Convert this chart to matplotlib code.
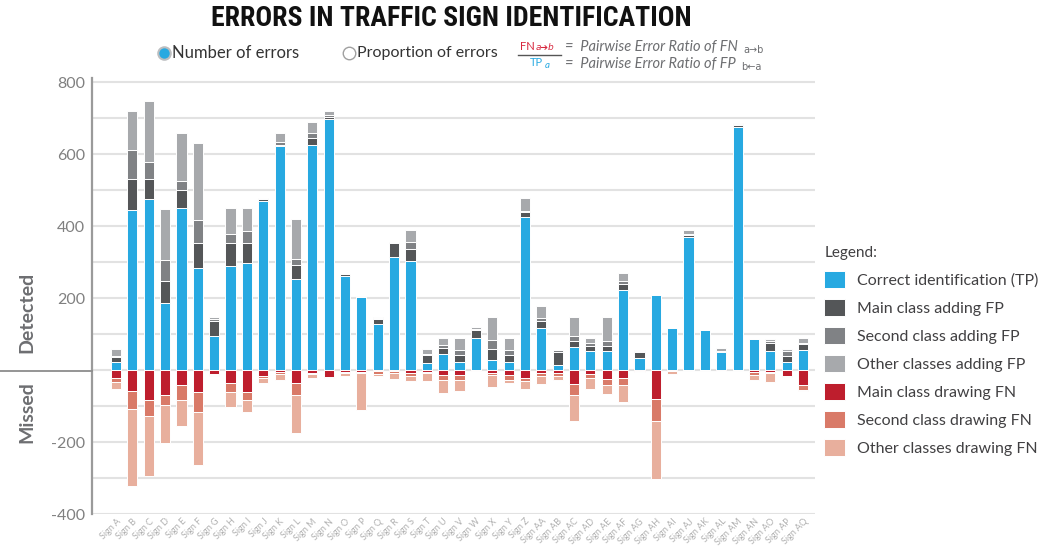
import numpy as np
import matplotlib
matplotlib.use('Agg')
from matplotlib import pyplot as plt
from matplotlib.lines import Line2D

# Sign names on the x axis
signs = ['Sign A', 'Sign B', 'Sign C', 'Sign D', 'Sign E', 'Sign F', 'Sign G', 'Sign H', 'Sign I',
         'Sign J', 'Sign K', 'Sign L', 'Sign M', 'Sign N', 'Sign O', 'Sign P', 'Sign Q', 'Sign R',
         'Sign S', 'Sign T', 'Sign U', 'Sign V', 'Sign W', 'Sign X', 'Sign Y', 'Sign Z', 'Sign AA',
         'Sign AB', 'Sign AC', 'Sign AD', 'Sign AE', 'Sign AF', 'Sign AG', 'Sign AH', 'Sign AI',
         'Sign AJ', 'Sign AK', 'Sign AL', 'Sign AM', 'Sign AN', 'Sign AO', 'Sign AP', 'Sign AQ']

# Detected (positive side)
tp = [21, 445, 474, 187, 449, 284, 94, 290, 298, 470, 621, 252, 626, 698, 261, 203, 127, 315, 302, 19,
      44, 22, 88, 29, 23, 426, 118, 15, 65, 52, 52, 223, 34, 208, 116, 369, 111, 49, 676, 86, 53, 21, 55]
fp_main = [14, 86, 56, 59, 52, 69, 43, 63, 56, 6, 5, 40, 18, 4, 6, 0, 15, 38, 33, 22,
           17, 19, 22, 28, 18, 12, 17, 35, 15, 16, 16, 17, 17, 0, 0, 6, 0, 2, 4, 1, 23, 19, 16]
fp_second = [4, 80, 49, 60, 25, 63, 4, 24, 33, 1, 6, 15, 15, 6, 0, 0, 3, 3, 21, 3,
             8, 15, 4, 25, 15, 5, 9, 5, 14, 8, 13, 8, 2, 0, 0, 4, 0, 3, 3, 0, 5, 13, 5]
fp_other = [20, 108, 169, 142, 133, 214, 6, 72, 62, 1, 27, 112, 30, 11, 0, 0, 3, 0, 33, 15,
            20, 33, 5, 66, 33, 35, 35, 0, 54, 13, 67, 21, 3, 0, 0, 10, 0, 6, 3, 0, 5, 6, 13]

# Missed (negative side)
fn_main = [22, 59, 83, 69, 43, 61, 12, 35, 62, 17, 6, 37, 8, 20, 6, 5, 4, 4, 8, 5,
           14, 15, 0, 8, 14, 21, 8, 9, 40, 12, 26, 21, 4, 81, 1, 0, 0, 4, 0, 6, 6, 17, 42]
fn_second = [12, 50, 45, 28, 40, 56, 2, 27, 20, 4, 6, 32, 4, 1, 3, 3, 6, 3, 9, 4,
             14, 13, 0, 6, 13, 9, 8, 7, 29, 10, 15, 20, 1, 60, 2, 0, 0, 0, 0, 8, 3, 0, 14]
fn_other = [18, 212, 166, 105, 73, 147, 3, 40, 34, 15, 17, 106, 9, 1, 9, 103, 7, 18, 13, 21,
            36, 29, 4, 33, 10, 24, 22, 13, 73, 31, 27, 48, 1, 162, 7, 0, 0, 0, 0, 13, 23, 3, 3]

labels = ['Correct identification (TP)', 'Main class adding FP', 'Second class adding FP',
          'Other classes adding FP', 'Main class drawing FN', 'Second class drawing FN',
          'Other classes drawing FN']
colors = ['#27a9e1', '#545658', '#808285', '#a7a9ac', '#be1e2d', '#d97a68', '#e8af9d']

W, H = 1041, 547
plt.rcParams['font.family'] = ['Lato', 'DejaVu Sans']


def px(x, y):
    return x / W, 1 - y / H


if __name__ == "__main__":

    fig = plt.figure(figsize=(W / 100, H / 100), dpi=100)
    ax = fig.add_axes([92 / W, 1 - 514 / H, (815 - 92) / W, (514 - 78.4) / H])

    x = np.arange(len(signs))
    width = 0.62
    handles = []

    # Positive stack
    bottom = np.zeros(len(signs))
    for vals, c, lab in zip([tp, fp_main, fp_second, fp_other], colors[:4], labels[:4]):
        b = ax.bar(x, vals, width, bottom=bottom, color=c, edgecolor='white', linewidth=0.7,
                   label=lab, zorder=3)
        handles.append(b)
        bottom += np.array(vals)

    # Negative stack
    bottom = np.zeros(len(signs))
    for vals, c, lab in zip([fn_main, fn_second, fn_other], colors[4:], labels[4:]):
        v = -np.array(vals)
        b = ax.bar(x, v, width, bottom=bottom, color=c, edgecolor='white', linewidth=0.7,
                   label=lab, zorder=3)
        handles.append(b)
        bottom += v

    ax.set_xlim(-1.47, 42.73)
    ax.set_ylim(-400, 810)

    # Grid every 100, labels every 200 (no zero label)
    ax.set_yticks(np.arange(-400, 801, 100), minor=True)
    ax.set_yticks(np.arange(-400, 801, 200))
    ax.set_yticklabels(['' if t == 0 else str(t) for t in np.arange(-400, 801, 200)])
    ax.grid(axis='y', which='both', color='#e2e2e2', linewidth=1.5, zorder=0)
    ax.tick_params(axis='y', which='both', length=0, labelsize=11.5, labelcolor='#808080', pad=5)
    ax.axhline(0, color='#8c8c8c', linewidth=1.3, linestyle=(0, (4, 3)), zorder=1)

    ax.set_xticks(x)
    ax.set_xticklabels(signs, rotation=45, ha='right', rotation_mode='anchor',
                       fontsize=6.5, color='#b0b0b0')
    ax.tick_params(axis='x', length=0, pad=2)

    for s in ['top', 'right', 'bottom']:
        ax.spines[s].set_visible(False)
    ax.spines['left'].set_color('#9a9a9a')
    ax.spines['left'].set_linewidth(1.6)

    # Zero line continues to the left edge
    fig.add_artist(Line2D([0, 92 / W], [1 - 371 / H] * 2, color='#8c8c8c', linewidth=1.3,
                          transform=fig.transFigure))

    fig.text(*px(27, 312), 'Detected', rotation=90, ha='center', va='center',
             fontsize=14, fontweight='bold', color='#6d6e71')
    fig.text(*px(27, 412), 'Missed', rotation=90, ha='center', va='center',
             fontsize=14, fontweight='bold', color='#6d6e71')

    # Title
    fig.text(*px(451, 18), 'ERRORS IN TRAFFIC SIGN IDENTIFICATION', ha='center', va='center',
             fontsize=20, fontweight='bold', fontstretch='condensed', color='#111111',
             family=['Roboto Condensed', 'DejaVu Sans Condensed', 'Roboto'])

    # Radio buttons
    fig.add_artist(Line2D([px(164, 53)[0]], [px(164, 53)[1]], marker='o', markersize=9,
                          markerfacecolor='#27a9e1', markeredgecolor='#bcbec0',
                          markeredgewidth=1.5, transform=fig.transFigure))
    fig.text(*px(172, 53), 'Number of errors', ha='left', va='center', fontsize=12, color='#333333')
    fig.add_artist(Line2D([px(349, 53)[0]], [px(349, 53)[1]], marker='o', markersize=9,
                          markerfacecolor='white', markeredgecolor='#a0a0a0',
                          markeredgewidth=1.0, transform=fig.transFigure))
    fig.text(*px(357, 53), 'Proportion of errors', ha='left', va='center', fontsize=11.5, color='#333333')

    # Ratio formula
    fig.text(*px(520, 46), 'FN', ha='left', va='center', fontsize=8, color='#d7263d')
    fig.text(*px(536, 48), 'a➔b', ha='left', va='center', fontsize=6.5, color='#d7263d',
             style='italic', family=['DejaVu Sans'])
    fig.add_artist(Line2D([518 / W, 561 / W], [1 - 55 / H] * 2, color='#555555', linewidth=1,
                          transform=fig.transFigure))
    fig.text(*px(530, 63), 'TP', ha='left', va='center', fontsize=8, color='#27a9e1')
    fig.text(*px(545, 65), 'a', ha='left', va='center', fontsize=7, color='#27a9e1', style='italic')
    t1 = fig.text(*px(565, 47), '=  Pairwise Error Ratio of FN', ha='left', va='center',
                  fontsize=10.5, color='#6d6e71', style='italic')
    ax.annotate('a→b', xy=(1, 0), xycoords=t1, xytext=(4, 3), textcoords='offset points',
                ha='left', va='center', fontsize=7, color='#6d6e71', family=['DejaVu Sans'],
                annotation_clip=False)
    t2 = fig.text(*px(565, 64), '=  Pairwise Error Ratio of FP', ha='left', va='center',
                  fontsize=10.5, color='#6d6e71', style='italic')
    ax.annotate('b←a', xy=(1, 0), xycoords=t2, xytext=(4, 3), textcoords='offset points',
                ha='left', va='center', fontsize=7, color='#6d6e71', family=['DejaVu Sans'],
                annotation_clip=False)

    # Legend
    leg = fig.legend(handles, labels, loc='upper left', bbox_to_anchor=px(818, 240),
                     title='Legend:', alignment='left', frameon=False, fontsize=11.5,
                     title_fontsize=11, handlelength=1.3, handleheight=1.3,
                     labelspacing=0.66, handletextpad=0.75, borderaxespad=0)
    for t in leg.get_texts():
        t.set_color('#414042')
    leg.get_title().set_color('#414042')

    fig.savefig('out.png', dpi=100)
